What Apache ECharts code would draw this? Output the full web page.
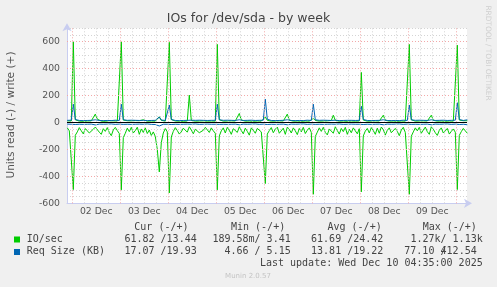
<!DOCTYPE html>
<html>
<head>
<meta charset="utf-8">
<script src="https://cdn.jsdelivr.net/npm/echarts@6/dist/echarts.min.js"></script>
<style>
html,body{margin:0;padding:0;background:#f0f0f0;}
#chart{width:497px;height:287px;}
</style>
</head>
<body>
<div id="chart"></div>
<script>
// ---------------- data ----------------
const titleText = 'IOs for /dev/sda - by week';
const yAxisTitle = 'Units read (-) / write (+)';
const dayLabels = ['02 Dec', '03 Dec', '04 Dec', '05 Dec', '06 Dec', '07 Dec', '08 Dec', '09 Dec'];
const yTickValues = [-600, -400, -200, 0, 200, 400, 600];

// hourly samples, first sample at Dec 1 21:30 (hours counted from Dec 1 00:00)
const firstSampleHour = 21.5;
const sampleStepHours = 1;

// IO/sec write (+)
const ioWrite = [
  12, 14, 11,
  600, 20, 12, 10, 14, 9, 13, 11, 16, 12, 22, 62, 25, 14, 10, 12, 9, 11, 13, 10, 12, 14, 11, 13,
  600, 18, 11, 13, 10, 12, 9, 14, 11, 13, 15, 20, 12, 10, 13, 11, 12, 10, 18, 42, 16, 12, 10, 11,
  595, 22, 13, 11, 12, 10, 14, 9, 12, 11, 203, 15, 12, 10, 13, 11, 9, 12, 14, 10, 12, 11, 13, 10,
  580, 20, 12, 10, 13, 11, 9, 12, 14, 11, 16, 67, 18, 12, 10, 13, 11, 12, 9, 14, 11, 12, 10, 13,
  40, 16, 12, 10, 13, 11, 9, 12, 14, 11, 18, 62, 17, 12, 10, 13, 11, 12, 9, 14, 11, 12, 10, 13,
  30, 15, 12, 10, 13, 11, 9, 12, 14, 15, 54, 16, 12, 10, 13, 11, 12, 9, 14, 11, 12, 10, 13, 11,
  372, 18, 12, 10, 13, 11, 9, 12, 14, 11, 15, 54, 16, 12, 10, 13, 11, 12, 9, 14, 11, 12, 10, 13,
  580, 20, 12, 10, 13, 11, 9, 12, 14, 11, 15, 54, 16, 12, 10, 13, 11, 12, 9, 14, 11, 12, 10, 13,
  574, 18, 12, 13, 11, 13
];
// IO/sec read (-)
const ioRead = [
  -40, -62, -48,
  -498, -95, -70, -38, -62, -85, -45, -52, -78, -92, -50, -34, -40, -72, -88, -46, -66, -38, -75, -98, -55, -36, -60, -82,
  -500, -112, -80, -42, -68, -36, -78, -60, -35, -88, -48, -74, -40, -82, -56, -96, -70, -104, -200, -367, -150, -78, -45, -70,
  -523, -108, -66, -38, -60, -86, -70, -42, -35, -72, -32, -55, -84, -50, -40, -76, -90, -58, -36, -48, -74, -40, -62, -80,
  -500, -100, -62, -40, -78, -36, -58, -88, -46, -38, -74, -32, -60, -84, -42, -66, -94, -40, -58, -80, -44, -36, -70, -82,
  -453, -86, -60, -38, -76, -50, -34, -80, -66, -42, -88, -35, -52, -78, -40, -62, -90, -44, -70, -36, -82, -58, -40, -74,
  -533, -104, -72, -40, -66, -36, -74, -92, -48, -38, -80, -32, -60, -86, -44, -68, -36, -88, -50, -76, -40, -62, -84, -46,
  -515, -100, -64, -44, -78, -38, -60, -88, -42, -80, -34, -52, -94, -58, -40, -76, -86, -44, -66, -98, -56, -36, -74, -60,
  -533, -102, -70, -40, -62, -36, -80, -56, -34, -68, -88, -32, -50, -76, -96, -58, -40, -78, -62, -44, -86, -66, -48, -72,
  -498, -96, -68, -44, -62, -80
];
// Req Size (KB) write (+)
const rsWrite = [
  16, 15, 17,
  136, 22, 16, 15, 17, 14, 16, 15, 18, 16, 17, 20, 18, 15, 16, 14, 17, 15, 16, 14, 15, 17, 16, 15,
  136, 20, 15, 16, 14, 17, 15, 16, 18, 15, 17, 16, 15, 14, 16, 15, 17, 16, 20, 40, 18, 16, 15, 17,
  130, 22, 16, 15, 17, 14, 16, 15, 18, 16, 25, 17, 15, 16, 14, 17, 15, 16, 14, 15, 17, 16, 15, 16,
  136, 20, 15, 16, 14, 17, 15, 16, 18, 15, 17, 20, 16, 15, 14, 16, 15, 17, 16, 15, 14, 16, 15, 17,
  173, 24, 16, 15, 17, 14, 16, 15, 18, 16, 17, 20, 18, 15, 16, 14, 17, 15, 16, 14, 15, 17, 16, 15,
  136, 20, 15, 16, 14, 17, 15, 16, 18, 15, 20, 17, 15, 14, 16, 15, 17, 16, 15, 16, 14, 15, 17, 16,
  121, 22, 16, 15, 17, 14, 16, 15, 18, 16, 17, 20, 18, 15, 16, 14, 17, 15, 16, 14, 15, 17, 16, 15,
  130, 20, 15, 16, 14, 17, 15, 16, 18, 15, 17, 20, 16, 15, 14, 16, 15, 17, 16, 15, 14, 16, 15, 17,
  146, 22, 16, 15, 17, 20
];
// Req Size (KB) read (-)
const rsRead = [
  -12, -14, -13,
  -22, -15, -12, -13, -11, -14, -12, -13, -15, -12, -14, -18, -13, -12, -11, -13, -14, -12, -13, -11, -12, -14, -13, -12,
  -24, -14, -12, -13, -11, -14, -12, -13, -15, -12, -14, -13, -12, -11, -13, -14, -12, -15, -20, -26, -16, -13, -12, -13,
  -22, -15, -12, -13, -11, -14, -12, -13, -15, -12, -16, -13, -12, -11, -13, -14, -12, -13, -11, -12, -14, -13, -12, -13,
  -23, -14, -12, -13, -11, -14, -12, -13, -15, -12, -14, -17, -13, -12, -11, -13, -14, -12, -13, -11, -12, -14, -13, -12,
  -25, -15, -12, -13, -11, -14, -12, -13, -15, -12, -14, -17, -13, -12, -11, -13, -14, -12, -13, -11, -12, -14, -13, -12,
  -24, -14, -12, -13, -11, -14, -12, -13, -15, -12, -17, -13, -12, -11, -13, -14, -12, -13, -11, -12, -14, -13, -12, -13,
  -22, -15, -12, -13, -11, -14, -12, -13, -15, -12, -14, -17, -13, -12, -11, -13, -14, -12, -13, -11, -12, -14, -13, -12,
  -24, -14, -12, -13, -11, -14, -12, -13, -15, -12, -14, -17, -13, -12, -11, -13, -14, -12, -13, -11, -12, -14, -13, -12,
  -22, -15, -12, -13, -14, -17
];

const legendHeaders = ['Cur (-/+)', 'Min (-/+)', 'Avg (-/+)', 'Max (-/+)'];
const legendNames = ['IO/sec', 'Req Size (KB)'];
const ioStats = ['61.82 /13.44', '189.58m/ 3.41', '61.69 /24.42', '1.27k/ 1.13k'];
const rsStats = ['17.07 /19.93', '4.66 / 5.15', '13.81 /19.22', '77.10 /', '412.54'];
const lastUpdate = 'Last update: Wed Dec 10 04:35:00 2025';
const footer = 'Munin 2.0.57';
const watermark = 'RRDTOOL / TOBI OETIKER';

// ---------------- build ----------------
const GREEN = '#00cc00', BLUE = '#0066b3';
const AXIS = '#c8cdf0';
const SANS = 'DejaVu Sans', MONO = 'DejaVu Sans Mono';
const xMin = 21.35, xMax = 221.35;

const hours = ioWrite.map((_, i) => firstSampleHour + i * sampleStepHours);
const pair = arr => arr.map((v, i) => [hours[i], v]);

const gridLines = [];
for (let h = 0; h <= xMax; h += 6) {
  if (h < xMin) continue;
  const major = h % 24 === 0;
  gridLines.push({ xAxis: h, lineStyle: { color: major ? '#f2a8a8' : '#d4d4d4', type: [1, 2], width: 1 } });
}
yTickValues.forEach(v => {
  if (v === -600 || v === 0) return;
  gridLines.push({ yAxis: v, lineStyle: { color: '#f2a8a8', type: [1, 2], width: 1 } });
});

const noonHours = dayLabels.map((_, k) => 24 * (k + 1) + 12);

const mono = (text, x, y, align, color) => ({
  type: 'text', x, y, silent: true,
  style: { text, fill: color || '#333', fontFamily: MONO, fontSize: 10, align: align || 'left', verticalAlign: 'middle' }
});

const graphics = [
  { type: 'text', x: 248.5, y: 19, silent: true,
    style: { text: titleText, fill: '#444', fontFamily: SANS, fontSize: 12.5, align: 'center', verticalAlign: 'middle' } },
  { type: 'text', x: 11, y: 115, rotation: Math.PI / 2, silent: true,
    style: { text: yAxisTitle, fill: '#555', fontFamily: SANS, fontSize: 10.6, align: 'center', verticalAlign: 'middle' } },
  { type: 'text', x: 488, y: 53, rotation: -Math.PI / 2, silent: true,
    style: { text: watermark, fill: '#cfcfcf', fontFamily: SANS, fontSize: 7.4, align: 'center', verticalAlign: 'middle' } },
  mono(legendHeaders[0], 134.3, 227.7, 'left', '#444'),
  mono(legendHeaders[1], 231, 227.7, 'left', '#444'),
  mono(legendHeaders[2], 327.5, 227.7, 'left', '#444'),
  mono(legendHeaders[3], 422.7, 227.7, 'left', '#444'),
  { type: 'rect', shape: { x: 14, y: 236.5, width: 6, height: 6 }, style: { fill: GREEN }, silent: true },
  { type: 'rect', shape: { x: 14, y: 249, width: 6, height: 6 }, style: { fill: BLUE }, silent: true },
  mono(legendNames[0], 26.7, 239.5, 'left', '#444'),
  mono(legendNames[1], 26.7, 251.8, 'left', '#444'),
  mono(ioStats[0], 196.7, 239.5, 'right', '#444'),
  mono(ioStats[1], 290.7, 239.5, 'right', '#444'),
  mono(ioStats[2], 383.3, 239.5, 'right', '#444'),
  mono(ioStats[3], 482.7, 239.5, 'right', '#444'),
  mono(rsStats[0], 196.7, 251.8, 'right', '#444'),
  mono(rsStats[1], 290.7, 251.8, 'right', '#444'),
  mono(rsStats[2], 383.3, 251.8, 'right', '#444'),
  mono(rsStats[3], 404.3, 251.8, 'left', '#444'),
  mono(rsStats[4], 476.7, 251.8, 'right', '#444'),
  mono(lastUpdate, 482.7, 263.8, 'right', '#444'),
  { type: 'text', x: 248, y: 276, silent: true,
    style: { text: footer, fill: '#c4c4c4', fontFamily: SANS, fontSize: 7, align: 'center', verticalAlign: 'middle' } }
];

const chart = echarts.init(document.getElementById('chart'), null, { renderer: 'canvas' });
chart.setOption({
  animation: false,
  backgroundColor: '#f0f0f0',
  grid: { left: 67, top: 28.2, width: 400, height: 175.1, show: true, backgroundColor: '#ffffff', borderWidth: 0, containLabel: false },
  xAxis: {
    type: 'value', min: xMin, max: xMax,
    axisLine: { show: true, onZero: false, lineStyle: { color: AXIS, width: 1 }, symbol: ['none', 'arrow'], symbolSize: [7, 8], symbolOffset: [0, 5] },
    axisTick: { show: false },
    splitLine: { show: false },
    axisLabel: {
      customValues: noonHours,
      formatter: v => dayLabels[Math.round((v - 36) / 24)] || '',
      color: '#555', fontFamily: SANS, fontSize: 9.3, margin: 4
    }
  },
  yAxis: {
    type: 'value', min: -600, max: 700, interval: 50,
    axisLine: { show: true, onZero: false, lineStyle: { color: AXIS, width: 1 }, symbol: ['none', 'arrow'], symbolSize: [7, 8], symbolOffset: [0, 5] },
    axisTick: { show: false },
    splitLine: { show: true, lineStyle: { color: '#d4d4d4', type: [1, 2], width: 1 } },
    axisLabel: {
      formatter: v => (yTickValues.indexOf(v) >= 0 ? String(v) : ''),
      color: '#555', fontFamily: SANS, fontSize: 9.3, margin: 7
    }
  },
  graphic: graphics,
  series: [
    { type: 'line', data: [], z: 1, silent: true,
      markLine: { silent: true, symbol: ['none', 'none'], label: { show: false }, animation: false, data: gridLines } },
    { name: 'IO/sec read', type: 'line', data: pair(ioRead), showSymbol: false, z: 3, lineStyle: { color: GREEN, width: 1 }, itemStyle: { color: GREEN } },
    { name: 'IO/sec write', type: 'line', data: pair(ioWrite), showSymbol: false, z: 3, lineStyle: { color: GREEN, width: 1 }, itemStyle: { color: GREEN } },
    { name: 'Req read', type: 'line', data: pair(rsRead), showSymbol: false, z: 4, lineStyle: { color: BLUE, width: 1 }, itemStyle: { color: BLUE } },
    { name: 'Req write', type: 'line', data: pair(rsWrite), showSymbol: false, z: 4, lineStyle: { color: BLUE, width: 1 }, itemStyle: { color: BLUE },
      markLine: { silent: true, symbol: ['none', 'none'], label: { show: false }, animation: false,
        data: [{ yAxis: 0, lineStyle: { color: '#000', type: 'solid', width: 1 } }] } }
  ]
});
</script>
</body>
</html>
